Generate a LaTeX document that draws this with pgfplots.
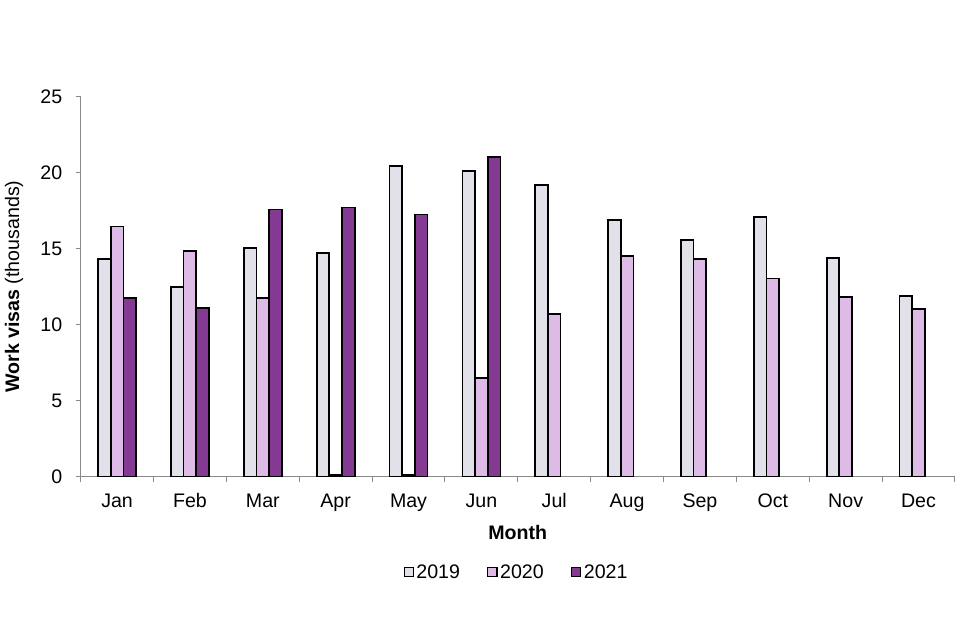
\documentclass[border=0pt]{standalone}
\usepackage{pgfplots}
\pgfplotsset{compat=1.18}
\usepackage{fontspec}
\setmainfont{Liberation Sans}
\definecolor{c19}{RGB}{226,224,232}
\definecolor{c20}{RGB}{222,186,230}
\definecolor{c21}{RGB}{132,57,147}
\definecolor{axgray}{RGB}{137,137,137}
\begin{document}
\begin{tikzpicture}
\useasboundingbox (0,0) rectangle (720pt,480pt);
\begin{axis}[
  at={(60.5pt,122.5pt)}, anchor=south west,
  scale only axis, width=655.7pt, height=285pt,
  font=\fontsize{14.7}{17.6}\selectfont,
  /pgf/number format/assume math mode=true,
  ybar=0pt, bar width=9.5pt,
  xmin=-0.5, xmax=11.5, ymin=0, ymax=25,
  ytick={0,5,10,15,20,25},
  xtick={0,...,11},
  xticklabels={Jan,Feb,Mar,Apr,May,Jun,Jul,Aug,Sep,Oct,Nov,Dec},
  minor xtick={-0.5,0.5,...,11.5},
  major x tick style={draw=none},
  tick align=outside,
  major tick length=3.75pt, minor tick length=3.75pt,
  axis x line*=bottom, axis y line*=left,
  axis line style={axgray, line width=0.8pt},
  every tick/.style={axgray, line width=0.8pt},
  every minor tick/.style={axgray, line width=0.8pt},
  tick label style={black},
  yticklabel style={xshift=-6.5pt},
  xticklabel style={yshift=-5pt, text height=11pt, text depth=3pt},
  xlabel={\textbf{Month}},
  ylabel={\textbf{Work visas} (thousands)},
  xlabel style={at={(axis description cs:0.5,-0.1666)}, anchor=base},
  ylabel style={at={(axis description cs:-0.0763,0.5)}, anchor=center, rotate=0},
  legend columns=3,
  legend style={draw=none, fill=none, at={(axis description cs:0.499,-0.252)}, anchor=center,
    /tikz/every even column/.append style={column sep=18.5pt}},
  legend image code/.code={\draw[#1, line width=0.8pt] (0pt,-3.4pt) rectangle (6.8pt,3.4pt);},
]
\addplot[draw=black, line width=1.3pt, fill=c19] coordinates {(0,14.30) (1,12.50) (2,15.02) (3,14.70) (4,20.44) (5,20.13) (6,19.17) (7,16.90) (8,15.57) (9,17.10) (10,14.37) (11,11.90)};
\addplot[draw=black, line width=1.3pt, fill=c20] coordinates {(0,16.45) (1,14.83) (2,11.76) (3,0.10) (4,0.10) (5,6.49) (6,10.70) (7,14.52) (8,14.30) (9,13.03) (10,11.84) (11,11.03)};
\addplot[draw=black, line width=1.3pt, fill=c21] coordinates {(0,11.76) (1,11.10) (2,17.57) (3,17.70) (4,17.24) (5,21.03)};
\legend{2019,2020,2021}
\end{axis}
\end{tikzpicture}
\end{document}
